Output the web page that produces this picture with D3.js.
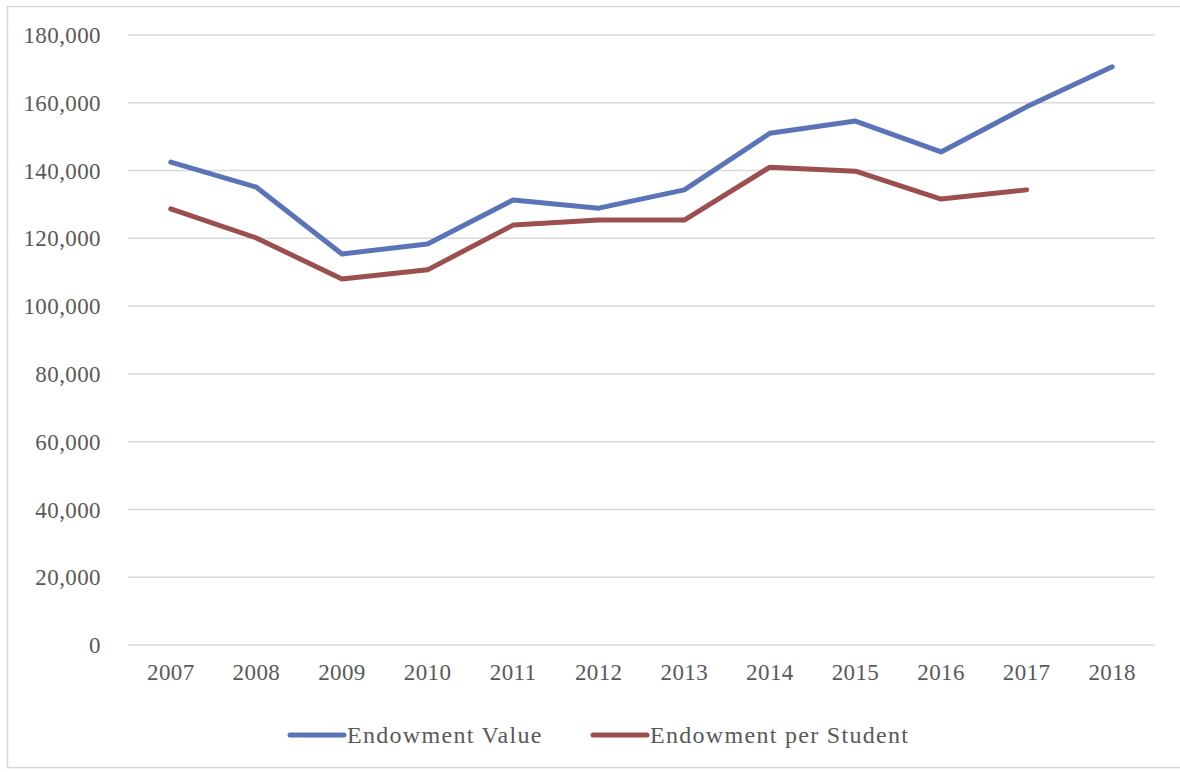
<!DOCTYPE html>
<html>
<head>
<meta charset="utf-8">
<script src="https://cdn.jsdelivr.net/npm/d3@7"></script>
<style>
  body { margin: 0; background: #fff; }
  text { font-family: "Liberation Serif", "DejaVu Serif", serif; fill: #595959; }
</style>
</head>
<body>
<svg id="chart" width="1180" height="772"></svg>
<script>
// chart data
const years = ["2007", "2008", "2009", "2010", "2011", "2012", "2013", "2014", "2015", "2016", "2017", "2018"];
const endowmentValue = [142500, 135100, 115400, 118300, 131300, 128900, 134300, 151000, 154600, 145500, 158800, 170600];
const endowmentPerStudent = [128700, 120100, 108000, 110700, 123900, 125400, 125400, 141000, 139800, 131600, 134300, null];
const yTicks = [0, 20000, 40000, 60000, 80000, 100000, 120000, 140000, 160000, 180000];
const seriesNames = ["Endowment Value", "Endowment per Student"];
const seriesColors = ["#5b74b7", "#9c4f4f"];

const svg = d3.select("#chart");
const plotLeft = 128, plotRight = 1155, plotTop = 35, plotBottom = 645;

// outer border
svg.append("rect")
    .attr("x", 7.5).attr("y", 6.5)
    .attr("width", 1200).attr("height", 761)
    .attr("fill", "none")
    .attr("stroke", "#d9d9d9")
    .attr("stroke-width", 1.5);

const x = d3.scaleBand()
    .domain(years)
    .range([plotLeft, plotRight]);

const y = d3.scaleLinear()
    .domain([0, 180000])
    .range([plotBottom, plotTop]);

// gridlines
svg.append("g")
    .selectAll("line")
    .data(yTicks)
    .join("line")
    .attr("x1", plotLeft).attr("x2", plotRight)
    .attr("y1", d => y(d)).attr("y2", d => y(d))
    .attr("stroke", "#d9d9d9")
    .attr("stroke-width", 1.5);

// y axis labels
const yAxis = d3.axisLeft(y)
    .tickValues(yTicks)
    .tickFormat(d3.format(","))
    .tickSize(0)
    .tickPadding(0);

svg.append("g")
    .attr("transform", "translate(101,0)")
    .call(yAxis)
    .call(g => g.select(".domain").remove())
    .call(g => g.selectAll("text")
        .attr("font-size", 23)
        .attr("font-family", null)
        .attr("fill", null)
        .attr("letter-spacing", 0.4)
        .attr("dy", "0.33em"));

// x axis labels
const xAxis = d3.axisBottom(x).tickSize(0).tickPadding(0);
svg.append("g")
    .attr("transform", "translate(0,672)")
    .call(xAxis)
    .call(g => g.select(".domain").remove())
    .call(g => g.selectAll("text")
        .attr("font-size", 23)
        .attr("font-family", null)
        .attr("fill", null)
        .attr("letter-spacing", 0.4)
        .attr("dy", "0.33em"));

const line = d3.line()
    .defined(d => d.v != null)
    .x(d => x(d.year) + x.bandwidth() / 2)
    .y(d => y(d.v));

[endowmentValue, endowmentPerStudent].forEach((vals, i) => {
    svg.append("path")
        .datum(years.map((yr, j) => ({year: yr, v: vals[j]})))
        .attr("d", line)
        .attr("fill", "none")
        .attr("stroke", seriesColors[i])
        .attr("stroke-width", 5)
        .attr("stroke-linejoin", "round")
        .attr("stroke-linecap", "round");
});

// legend
const legendX = [290, 593];
const legend = svg.append("g").attr("transform", "translate(0,735)");
seriesNames.forEach((name, i) => {
    legend.append("line")
        .attr("x1", legendX[i]).attr("x2", legendX[i] + 54)
        .attr("stroke", seriesColors[i])
        .attr("stroke-width", 5)
        .attr("stroke-linecap", "round");
    legend.append("text")
        .attr("x", legendX[i] + 57)
        .attr("dy", "0.33em")
        .attr("font-size", 24)
        .attr("letter-spacing", 1.3)
        .text(name);
});
</script>
</body>
</html>
